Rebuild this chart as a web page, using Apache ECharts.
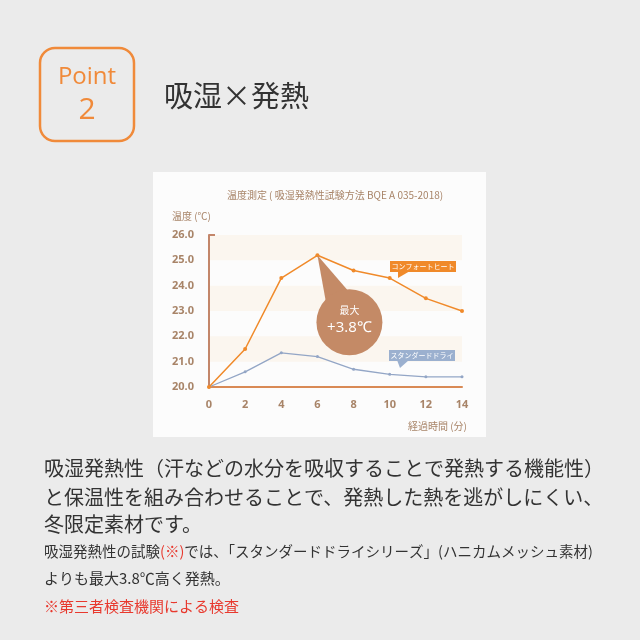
<!DOCTYPE html>
<html><head><meta charset="utf-8">
<script src="https://cdn.jsdelivr.net/npm/echarts@6/dist/echarts.min.js"></script>
<style>html,body{margin:0;padding:0;background:#ebebeb}#c{width:640px;height:640px}</style>
</head><body><div id="c"></div>
<script>
// ---- data ----
const minutes = [0, 2, 4, 6, 8, 10, 12, 14];
const comfortHeat = [20.0, 21.5, 24.3, 25.2, 24.6, 24.3, 23.5, 23.0];
const standardDry = [20.0, 20.6, 21.35, 21.2, 20.7, 20.5, 20.4, 20.4];
const seriesNames = ['コンフォートヒート', 'スタンダードドライ'];
const yMin = 20, yMax = 26, yStep = 1;
const xMin = 0, xMax = 14, xStep = 2;
const chartTitle = '温度測定 ( 吸湿発熱性試験方法 BQE A 035-2018)';
const yName = '温度 (℃)';
const xName = '経過時間 (分)';
const peakNote = ['最大', '+3.8℃'];

const JP = '"Noto Sans CJK JP", "Noto Sans", sans-serif';
const ORANGE = '#f08a2a', BLUE = '#93a6c6', AXIS = '#c3866a', LBL = '#a88468';

const chart = echarts.init(document.getElementById('c'));
const toPair = (xs, ys) => xs.map((x, i) => [x, ys[i]]);

const baseOption = {
  backgroundColor: '#ebebeb',
  animation: false,
  grid: { left: 209, right: 178, top: 235, bottom: 253 },
  xAxis: {
    type: 'value', min: xMin, max: xMax, interval: xStep,
    axisLine: { show: true, onZero: false, lineStyle: { color: '#d98a55', width: 2 } },
    axisTick: { show: false }, splitLine: { show: false },
    axisLabel: { color: LBL, fontSize: 11, fontWeight: 'bold', margin: 12, fontFamily: '"Noto Sans", sans-serif' }
  },
  yAxis: {
    type: 'value', min: yMin, max: yMax, interval: yStep,
    axisLine: { show: true, lineStyle: { color: AXIS, width: 2 } },
    axisTick: { show: false }, splitLine: { show: false },
    splitArea: { show: true, areaStyle: { color: ['rgba(255,255,255,0)', '#fbf6ef'] } },
    axisLabel: { color: LBL, fontSize: 11, fontWeight: 'bold', margin: 15, fontFamily: '"Noto Sans", sans-serif',
      formatter: v => v.toFixed(1) }
  },
  series: [
    { name: seriesNames[0], type: 'line', data: toPair(minutes, comfortHeat), z: 3,
      lineStyle: { color: ORANGE, width: 1.5 }, itemStyle: { color: ORANGE },
      symbol: 'circle', symbolSize: 4, showSymbol: true },
    { name: seriesNames[1], type: 'line', data: toPair(minutes, standardDry), z: 2,
      lineStyle: { color: BLUE, width: 1.3 }, itemStyle: { color: BLUE },
      symbol: 'circle', symbolSize: 3, showSymbol: true }
  ]
};
chart.setOption(baseOption);

const px = (x, y) => chart.convertToPixel({ gridIndex: 0 }, [x, y]);
const topLeft = px(xMin, yMax);
const peakIdx = comfortHeat.indexOf(Math.max(...comfortHeat));
const peak = px(minutes[peakIdx], comfortHeat[peakIdx]);

// bubble
const bc = [peak[0] + 32, peak[1] + 67], br = 33;
const ang = Math.atan2(peak[1] - bc[1], peak[0] - bc[0]);
const bp = a => [bc[0] + br * 0.9 * Math.cos(a), bc[1] + br * 0.9 * Math.sin(a)];

function callout(x, y, w, h, color, text, tip) {
  return [
    { type: 'polygon', shape: { points: [[x + 8, y + h - 1], [x + 20, y + h - 1], tip] }, style: { fill: color }, z: 10 },
    { type: 'rect', shape: { x: x, y: y, width: w, height: h }, style: { fill: color }, z: 10 },
    { type: 'text', x: x + w / 2, y: y + h / 2, z: 11,
      style: { text: text, fill: '#fff', font: '7px ' + JP, textAlign: 'center', textVerticalAlign: 'middle' } }
  ];
}

const graphic = [
  // page panel
  { type: 'rect', shape: { x: 153, y: 172, width: 333, height: 265 }, style: { fill: '#fcfcfc' }, z: -100 },
  // Point badge
  { type: 'rect', shape: { x: 40, y: 48, width: 94, height: 93, r: 15 }, style: { fill: 'none', stroke: '#f08a3a', lineWidth: 2.5 } },
  { type: 'text', x: 87, y: 77, style: { text: 'Point', fill: '#f08a3a', font: '24px "Open Sans", sans-serif', textAlign: 'center', textVerticalAlign: 'middle' } },
  { type: 'text', x: 87, y: 110, style: { text: '2', fill: '#f08a3a', font: '30px "Open Sans", sans-serif', textAlign: 'center', textVerticalAlign: 'middle' } },
  { type: 'text', x: 164, y: 96, style: { text: '吸湿×発熱', fill: '#333', font: '29px ' + JP, textVerticalAlign: 'middle' } },
  // chart texts
  { type: 'text', x: 335, y: 195, style: { text: chartTitle, fill: LBL, font: '10px ' + JP, textAlign: 'center', textVerticalAlign: 'middle' } },
  { type: 'text', x: 172, y: 216, style: { text: yName, fill: LBL, font: '10px ' + JP, textVerticalAlign: 'middle' } },
  { type: 'text', x: 467, y: 426, style: { text: xName, fill: LBL, font: '10px ' + JP, textAlign: 'right', textVerticalAlign: 'middle' } },
  // y-axis top tick
  { type: 'line', shape: { x1: topLeft[0], y1: topLeft[1], x2: topLeft[0] + 6, y2: topLeft[1] }, style: { stroke: AXIS, lineWidth: 2 }, z: 5 },
  // bubble
  { type: 'polygon', shape: { points: [bp(ang - 0.45), bp(ang + 0.45), peak] }, style: { fill: '#c48a66' }, z: 8 },
  { type: 'circle', shape: { cx: bc[0], cy: bc[1], r: br }, style: { fill: '#c48a66' }, z: 8 },
  { type: 'text', x: bc[0], y: bc[1] - 12, z: 9, style: { text: peakNote[0], fill: '#fff', font: '10px ' + JP, textAlign: 'center', textVerticalAlign: 'middle' } },
  { type: 'text', x: bc[0], y: bc[1] + 5, z: 9, style: { text: peakNote[1], fill: '#fff', font: '15px "Open Sans", sans-serif', textAlign: 'center', textVerticalAlign: 'middle' } },
  ...callout(390, 261, 66, 11, ORANGE, seriesNames[0], [398, 278]),
  ...callout(389, 350, 66, 11, '#9bb0cf', seriesNames[1], [400, 368]),
  // paragraph
  { type: 'text', x: 44, y: 468, style: { text: '吸湿発熱性（汗などの水分を吸収することで発熱する機能性）', fill: '#333', font: '20px ' + JP, textVerticalAlign: 'middle' } },
  { type: 'text', x: 44, y: 497, style: { text: 'と保温性を組み合わせることで、発熱した熱を逃がしにくい、', fill: '#333', font: '20px ' + JP, textVerticalAlign: 'middle' } },
  { type: 'text', x: 44, y: 524, style: { text: '冬限定素材です。', fill: '#333', font: '20px ' + JP, textVerticalAlign: 'middle' } },
  { type: 'text', x: 44, y: 551, style: {
      text: '{a|吸湿発熱性の試験}{r|(※)}{a|では、「スタンダードドライシリーズ」(ハニカムメッシュ素材)}',
      textVerticalAlign: 'middle',
      rich: { a: { fill: '#333', font: '14.5px ' + JP }, r: { fill: '#e8392e', font: '14.5px ' + JP } } } },
  { type: 'text', x: 44, y: 578, style: { text: 'よりも最大3.8℃高く発熱。', fill: '#333', font: '15px ' + JP, textVerticalAlign: 'middle' } },
  { type: 'text', x: 44, y: 606, style: { text: '※第三者検査機関による検査', fill: '#e8392e', font: '15px ' + JP, textVerticalAlign: 'middle' } }
];
chart.setOption({ graphic: graphic });
</script></body></html>
